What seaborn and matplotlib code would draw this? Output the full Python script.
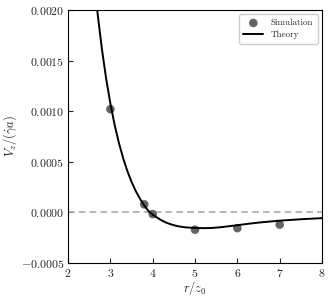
import matplotlib
matplotlib.use("Agg")
import matplotlib.pyplot as plt
import numpy as np
import pandas as pd
import seaborn as sns
from matplotlib.ticker import FuncFormatter

# simulation points (r/z0, Vz/(gamma_dot a))
sim_r = [3.0, 3.8, 4.0, 5.0, 6.0, 7.0]
sim_v = [1.02e-3, 0.08e-3, -0.016e-3, -0.170e-3, -0.155e-3, -0.120e-3]

# theory curve
theory_r = [2.6, 2.7, 2.8, 2.9, 3.0, 3.1, 3.2, 3.3, 3.4, 3.5, 3.6, 3.7, 3.8, 3.9,
            4.0, 4.1, 4.2, 4.3, 4.4, 4.5, 4.6, 4.7, 4.8, 5.0, 5.2, 5.4, 5.6, 5.8,
            6.0, 6.25, 6.5, 7.0, 7.5, 8.0]
theory_v = [2.36, 1.955, 1.612, 1.321, 1.074, 0.865, 0.688, 0.538, 0.410, 0.302,
            0.211, 0.135, 0.070, 0.014, -0.022, -0.050, -0.076, -0.097, -0.113,
            -0.126, -0.136, -0.143, -0.148, -0.153, -0.155, -0.153, -0.146, -0.136,
            -0.126, -0.112, -0.100, -0.081, -0.067, -0.056]
theory_v = [v * 1e-3 for v in theory_v]

sim = pd.DataFrame({"r": sim_r, "v": sim_v})
theory = pd.DataFrame({"r": theory_r, "v": theory_v})

sns.set_style("ticks")
plt.rcParams["font.family"] = "serif"
plt.rcParams["font.serif"] = ["cmr10", "DejaVu Serif"]
plt.rcParams["mathtext.fontset"] = "cm"
plt.rcParams["axes.formatter.use_mathtext"] = True

fig = plt.figure(figsize=(3.32, 3.0), dpi=100)
ax = fig.add_axes([0.205, 0.123, 0.765, 0.844])

ax.axhline(0, color="#aaaaaa", ls="--", lw=1.2, dashes=(4, 2.5), zorder=1)
sns.lineplot(data=theory, x="r", y="v", ax=ax, color="black", lw=1.4,
             label="Theory", zorder=3)
sns.scatterplot(data=sim, x="r", y="v", ax=ax, color="#646464", s=38,
                edgecolor="none", label="Simulation", zorder=2)

ax.set_xlim(2, 8)
ax.set_ylim(-0.0005, 0.0020)
ax.set_xticks(range(2, 9))
ax.set_yticks([-0.0005, 0.0, 0.0005, 0.0010, 0.0015, 0.0020])
ax.yaxis.set_major_formatter(FuncFormatter(lambda v, p: f"${v:.4f}$"))
ax.xaxis.set_major_formatter(FuncFormatter(lambda v, p: f"${v:.0f}$"))
ax.tick_params(direction="in", length=3.5, width=0.8, labelsize=8.5, pad=3)
for s in ax.spines.values():
    s.set_linewidth(0.8)
    s.set_color("black")

ax.set_xlabel(r"$r/z_0$", fontsize=9, labelpad=0)
ax.set_ylabel(r"$V_z/(\dot{\gamma}a)$", fontsize=9, labelpad=1)

h, l = ax.get_legend_handles_labels()
order = [l.index("Simulation"), l.index("Theory")]
ax.legend([h[i] for i in order], [l[i] for i in order], loc="upper right",
          fontsize=6.5, frameon=True, framealpha=1, edgecolor="#cccccc",
          fancybox=True, handlelength=2.2, borderpad=0.5, labelspacing=0.4)

fig.savefig("out.png", dpi=100)
